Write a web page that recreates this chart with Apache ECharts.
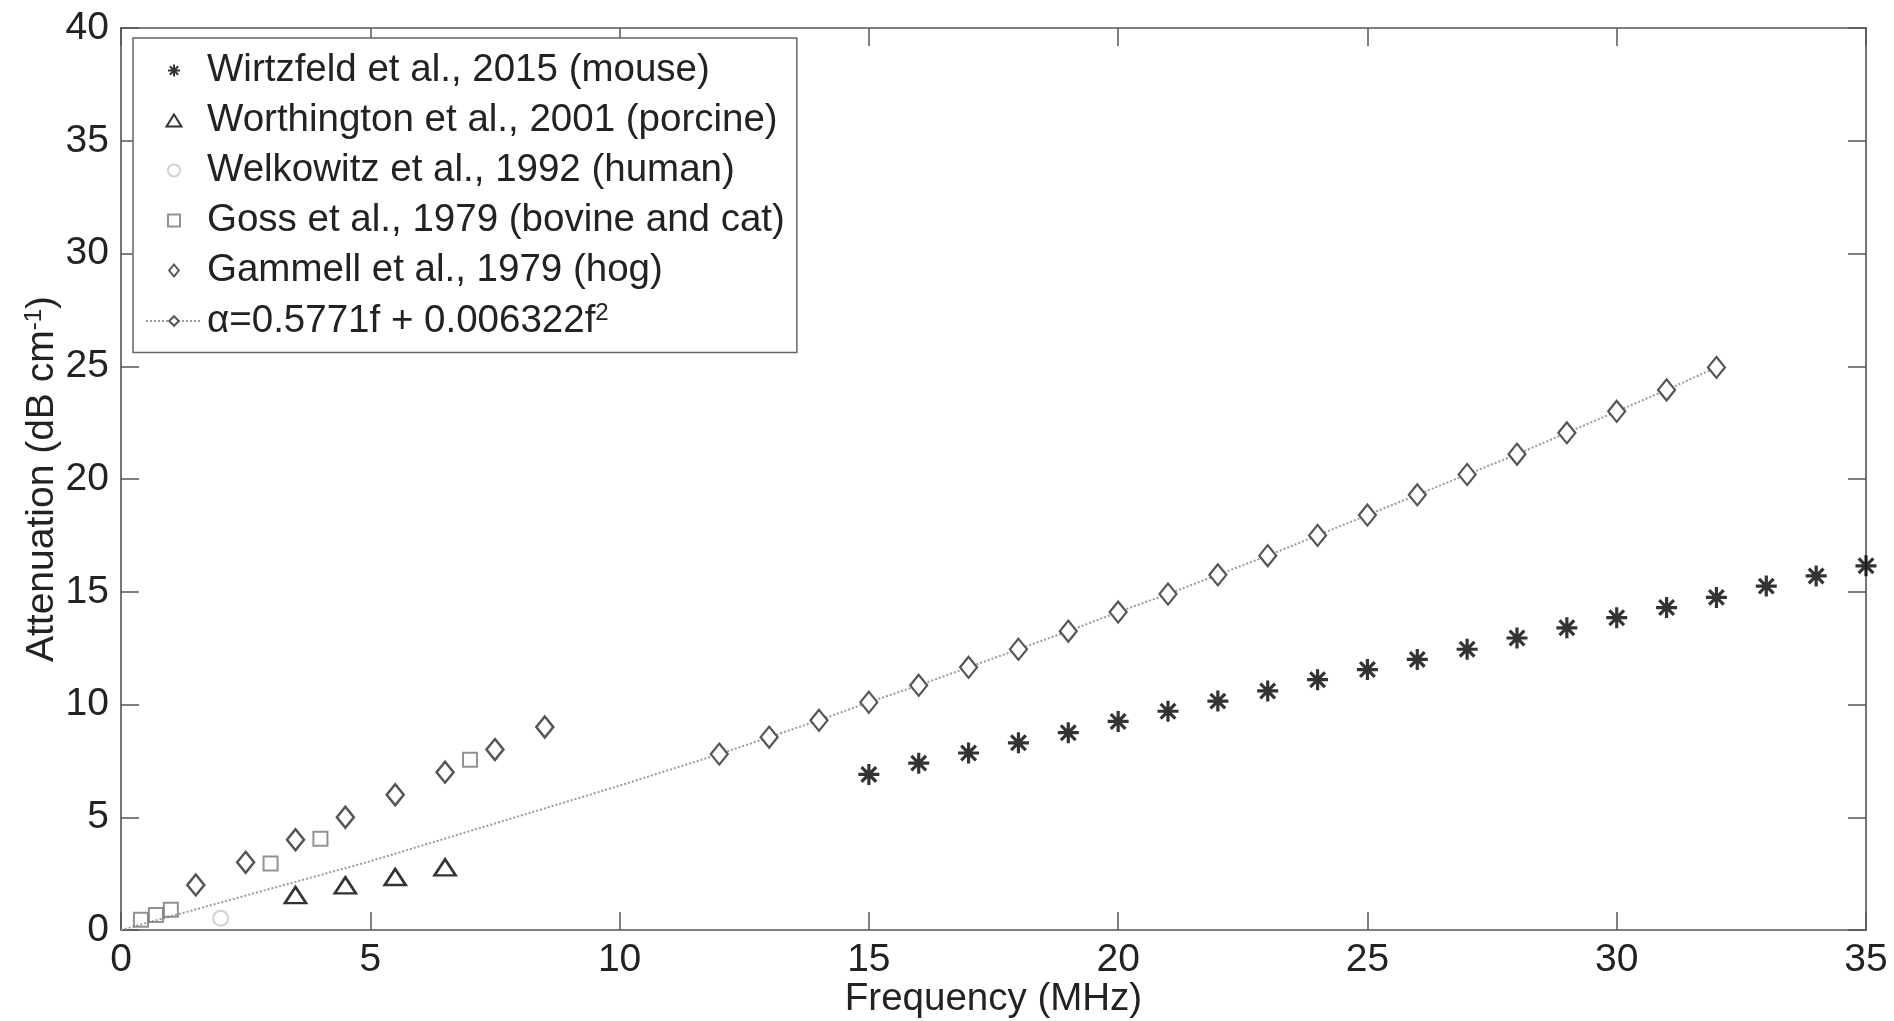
<!DOCTYPE html>
<html>
<head>
<meta charset="utf-8">
<script src="https://cdn.jsdelivr.net/npm/echarts@6/dist/echarts.min.js"></script>
<style>
html,body{margin:0;padding:0;background:#fff;}
#chart{width:1894px;height:1021px;}
</style>
</head>
<body>
<div id="chart"></div>
<script>
// values (frequency in MHz, attenuation in dB/cm)
var wirtzfeldF = [15,16,17,18,19,20,21,22,23,24,25,26,27,28,29,30,31,32,33,34,35];
var wirtzfeldA = [6.9,7.4,7.85,8.3,8.75,9.25,9.7,10.15,10.6,11.1,11.55,12.0,12.45,12.95,13.4,13.85,14.3,14.75,15.25,15.7,16.15];

var worthingtonF = [3.5,4.5,5.5,6.5];
var worthingtonA = [1.55,1.98,2.35,2.78];

var welkowitzF = [2.0];
var welkowitzA = [0.52];

var gossF = [0.4,0.7,1.0,3.0,4.0,7.0];
var gossA = [0.45,0.66,0.9,2.95,4.05,7.55];

var gammellF = [1.5,2.5,3.5,4.5,5.5,6.5,7.5,8.5];
var gammellA = [2.0,3.0,4.0,5.0,6.0,7.0,8.0,9.0];

// fitted curve, dotted part (no markers) then the marked part
var fitLineF = [0,5,10];
var fitLineA = [0,3.05,6.4];
var fitF = [12,13,14,15,16,17,18,19,20,21,22,23,24,25,26,27,28,29,30,31,32];
var fitA = [7.8,8.55,9.3,10.1,10.85,11.65,12.45,13.25,14.1,14.9,15.75,16.6,17.5,18.4,19.3,20.2,21.1,22.05,23.0,23.95,24.95];

var xTicks = {min:0, max:35, step:5};
var yTicks = {min:0, max:40, step:5};

var names = [
	'Wirtzfeld et al., 2015 (mouse)',
	'Worthington et al., 2001 (porcine)',
	'Welkowitz et al., 1992 (human)',
	'Goss et al., 1979 (bovine and cat)',
	'Gammell et al., 1979 (hog)',
	'α=0.5771f + 0.006322f²'
];

function pairs(xs, ys){
	var out = [];
	for(var i=0;i<xs.length;i++){
		out.push([xs[i], ys[i]]);
	}
	return out;
}

var fitData = [];
for(var i=0;i<fitLineF.length;i++){
	fitData.push({value:[fitLineF[i], fitLineA[i]], symbol:'none'});
}
for(var j=0;j<fitF.length;j++){
	fitData.push([fitF[j], fitA[j]]);
}

// marker shapes as paths so the legend keeps their aspect
var asterisk = 'path://M10,0L10,20M0,10L20,10M3,3L17,17M3,17L17,3';
var triangle = 'path://M10,0L20,16L0,16Z';
var diamond = 'path://M8,0L16,10L8,20L0,10Z';
var square = 'path://M0,0L10,0L10,10L0,10Z';
var ring = 'path://M0,10A10,10,0,1,1,20,10A10,10,0,1,1,0,10Z';

var FONT = '"Liberation Sans", Arial, sans-serif';
var AXIS_COLOR = '#555';
var TEXT_COLOR = '#222';

var myChart = echarts.init(document.getElementById('chart'));

function boxAxis(pos, showLabel, range){
	return {
		type: 'value',
		position: pos,
		min: range.min,
		max: range.max,
		interval: range.step,
		splitLine: {show:false},
		axisLine: {show:true, onZero:false, lineStyle:{color:AXIS_COLOR, width:1.6}},
		axisTick: {show:true, inside:true, length:18, lineStyle:{color:AXIS_COLOR, width:1.5}},
		axisLabel: {show:showLabel, color:TEXT_COLOR, fontFamily:FONT, fontSize:39}
	};
}

var xBottom = boxAxis('bottom', true, xTicks);
xBottom.axisLabel.margin = 11;
xBottom.name = 'Frequency (MHz)';
xBottom.nameLocation = 'middle';
xBottom.nameMoveOverlap = false;
xBottom.nameGap = 50;
xBottom.nameTextStyle = {color:TEXT_COLOR, fontFamily:FONT, fontSize:38.5};

var yLeft = boxAxis('left', true, yTicks);
yLeft.axisLabel.margin = 12;
yLeft.name = 'Attenuation (dB cm{s|-1})';
yLeft.nameLocation = 'middle';
yLeft.nameMoveOverlap = false;
yLeft.nameGap = 59;
yLeft.nameTextStyle = {
	color:TEXT_COLOR, fontFamily:FONT, fontSize:39,
	rich:{s:{fontSize:24, fontFamily:FONT, color:TEXT_COLOR, verticalAlign:'top', padding:[0,0,16,0]}}
};

var option = {
	animation: false,
	backgroundColor: '#fff',
	grid: {left:121, right:28, top:28, bottom:91, outerBoundsMode:'none', containLabel:false},
	xAxis: [xBottom, boxAxis('top', false, xTicks)],
	yAxis: [yLeft, boxAxis('right', false, yTicks)],
	legend: {
		orient: 'vertical',
		left: 133,
		top: 38,
		padding: [13, 12, 12, 12],
		itemGap: 11,
		itemWidth: 56,
		itemHeight: 12,
		symbolKeepAspect: true,
		backgroundColor: '#fff',
		borderColor: '#666',
		borderWidth: 1.5,
		borderRadius: 0,
		data: names,
		formatter: function(name){
			if(name === names[5]){
				return '{t|α=0.5771f + 0.006322f}{s|2}';
			}
			return name;
		},
		textStyle: {
			color: TEXT_COLOR, fontFamily: FONT, fontSize: 38.5,
			rich: {
				t: {color:TEXT_COLOR, fontFamily:FONT, fontSize:38.5},
				s: {color:TEXT_COLOR, fontFamily:FONT, fontSize:24, verticalAlign:'top', padding:[0,0,16,0]}
			}
		}
	},
	series: [
		{
			name: names[5],
			type: 'line',
			data: fitData,
			symbol: diamond,
			symbolSize: [17, 21],
			showAllSymbol: true,
			z: 1,
			lineStyle: {color:'#9a9a9a', width:2, type:'dotted'},
			itemStyle: {color:'#fff', borderColor:'#555', borderWidth:2.2}
		},
		{
			name: names[0],
			type: 'scatter',
			data: pairs(wirtzfeldF, wirtzfeldA),
			symbol: asterisk,
			symbolSize: 21,
			z: 3,
			itemStyle: {color:'#000', borderColor:'#000', borderWidth:3.2}
		},
		{
			name: names[1],
			type: 'scatter',
			data: pairs(worthingtonF, worthingtonA),
			symbol: triangle,
			symbolSize: [21, 16],
			z: 3,
			itemStyle: {color:'rgba(0,0,0,0)', borderColor:'#000', borderWidth:2.6}
		},
		{
			name: names[2],
			type: 'scatter',
			data: pairs(welkowitzF, welkowitzA),
			symbol: ring,
			symbolSize: 15,
			z: 3,
			itemStyle: {color:'rgba(0,0,0,0)', borderColor:'#c4c4c4', borderWidth:2}
		},
		{
			name: names[3],
			type: 'scatter',
			data: pairs(gossF, gossA),
			symbol: square,
			symbolSize: 14,
			z: 3,
			itemStyle: {color:'rgba(0,0,0,0)', borderColor:'#777', borderWidth:2}
		},
		{
			name: names[4],
			type: 'scatter',
			data: pairs(gammellF, gammellA),
			symbol: diamond,
			symbolSize: [17, 21],
			z: 3,
			itemStyle: {color:'rgba(0,0,0,0)', borderColor:'#2a2a2a', borderWidth:2.5}
		}
	]
};
myChart.setOption(option, true);
</script>
</body>
</html>
